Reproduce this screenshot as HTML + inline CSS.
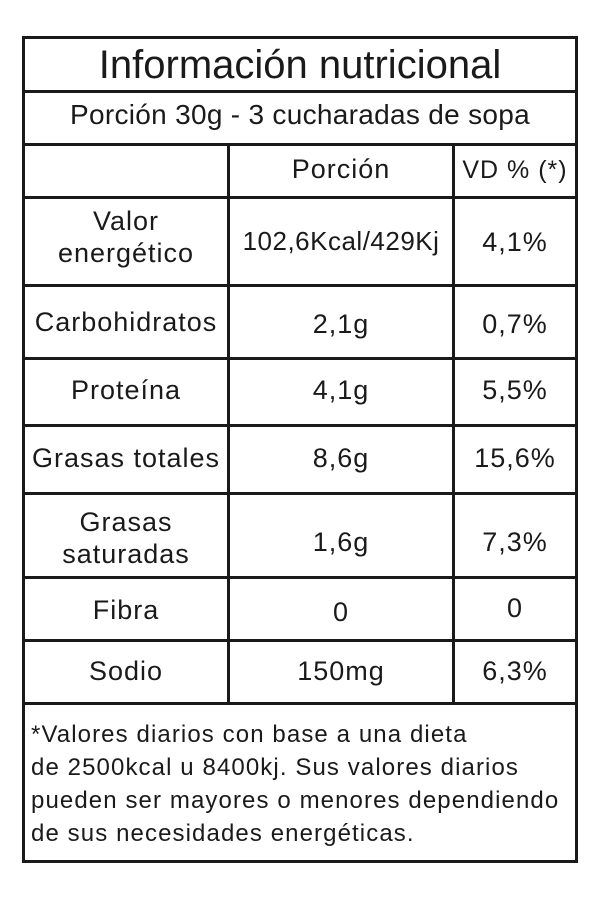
<!DOCTYPE html>
<html><head><style>
body{margin:0;width:600px;height:900px;background:#fff;position:relative;font-family:"Liberation Sans",sans-serif;color:#1a1a1a;overflow:hidden}
.h,.v{position:absolute;background:#1a1a1a}
.t{position:absolute;text-align:center;white-space:nowrap;line-height:1.2;font-size:27px;letter-spacing:1px}
</style></head><body>
<div class="h" style="left:22px;top:36px;width:556px;height:3px"></div>
<div class="h" style="left:22px;top:860px;width:556px;height:3px"></div>
<div class="v" style="left:22px;top:36px;width:3px;height:827px"></div>
<div class="v" style="left:575px;top:36px;width:3px;height:827px"></div>
<div class="h" style="left:22px;top:90px;width:556px;height:3px"></div>
<div class="h" style="left:22px;top:143px;width:556px;height:3px"></div>
<div class="h" style="left:22px;top:196px;width:556px;height:3px"></div>
<div class="h" style="left:22px;top:284px;width:556px;height:3px"></div>
<div class="h" style="left:22px;top:357px;width:556px;height:3px"></div>
<div class="h" style="left:22px;top:424px;width:556px;height:3px"></div>
<div class="h" style="left:22px;top:492px;width:556px;height:3px"></div>
<div class="h" style="left:22px;top:576px;width:556px;height:3px"></div>
<div class="h" style="left:22px;top:639px;width:556px;height:3px"></div>
<div class="h" style="left:22px;top:702px;width:556px;height:3px"></div>
<div class="v" style="left:227px;top:143px;width:3px;height:562px"></div>
<div class="v" style="left:452px;top:143px;width:3px;height:562px"></div>

<div class="t" style="left:22px;width:556px;top:41px;font-size:40px;letter-spacing:0">Información nutricional</div>
<div class="t" style="left:22px;width:556px;top:98px;font-size:28px;letter-spacing:0.3px">Porción 30g - 3 cucharadas de sopa</div>
<div class="t" style="left:229px;width:224px;top:153px">Porción</div>
<div class="t" style="left:454px;width:122px;top:155px;font-size:25px">VD % (*)</div>

<div class="t" style="left:24px;width:204px;top:205px;line-height:32px">Valor<br>energético</div>
<div class="t" style="left:229px;width:224px;top:226px;font-size:26px;letter-spacing:0.5px">102,6Kcal/429Kj</div>
<div class="t" style="left:454px;width:122px;top:226px">4,1%</div>

<div class="t" style="left:24px;width:204px;top:306px">Carbohidratos</div>
<div class="t" style="left:229px;width:224px;top:308px">2,1g</div>
<div class="t" style="left:454px;width:122px;top:308px">0,7%</div>

<div class="t" style="left:24px;width:204px;top:374px">Proteína</div>
<div class="t" style="left:229px;width:224px;top:374px">4,1g</div>
<div class="t" style="left:454px;width:122px;top:374px">5,5%</div>

<div class="t" style="left:24px;width:204px;top:442px">Grasas totales</div>
<div class="t" style="left:229px;width:224px;top:442px">8,6g</div>
<div class="t" style="left:454px;width:122px;top:442px">15,6%</div>

<div class="t" style="left:24px;width:204px;top:506px;line-height:32px">Grasas<br>saturadas</div>
<div class="t" style="left:229px;width:224px;top:526px">1,6g</div>
<div class="t" style="left:454px;width:122px;top:526px">7,3%</div>

<div class="t" style="left:24px;width:204px;top:594px">Fibra</div>
<div class="t" style="left:229px;width:224px;top:596px">0</div>
<div class="t" style="left:454px;width:122px;top:592px">0</div>

<div class="t" style="left:24px;width:204px;top:655px">Sodio</div>
<div class="t" style="left:229px;width:224px;top:655px">150mg</div>
<div class="t" style="left:454px;width:122px;top:655px">6,3%</div>

<div class="t" style="left:31px;top:718px;text-align:left;font-size:24px;letter-spacing:1.1px;line-height:33px">*Valores diarios con base a una dieta<br>de 2500kcal u 8400kj. Sus valores diarios<br>pueden ser mayores o menores dependiendo<br>de sus necesidades energéticas.</div>
</body></html>
